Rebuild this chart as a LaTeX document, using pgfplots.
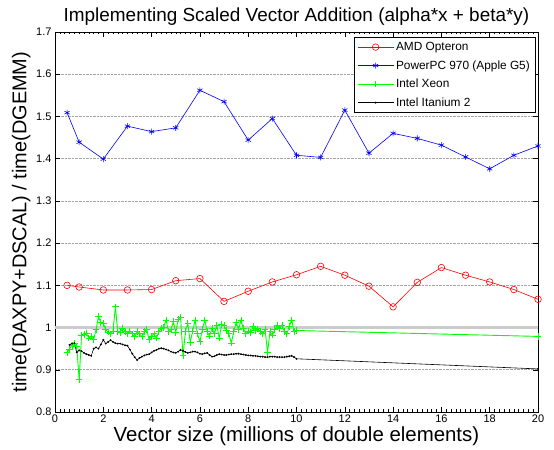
\documentclass[border=0pt]{standalone}
\usepackage{pgfplots}
\pgfplotsset{compat=1.18}
\usepackage{pgfplotstable}
\usepackage{fontspec}
\setmainfont{Liberation Sans}
\definecolor{mgreen}{rgb}{0,1,0}
\pgfplotstableread{
x y
0.5 1.100
1 1.096
2 1.089
3 1.089
4 1.090
5 1.111
6 1.116
7 1.062
8 1.086
9 1.108
10 1.125
11 1.145
12 1.124
13 1.098
14 1.049
15 1.107
16 1.142
17 1.124
18 1.108
19 1.090
20 1.067
}\amd
\pgfplotstableread{
x y
0.5 1.509
1 1.439
2 1.399
3 1.477
4 1.464
5 1.473
6 1.562
7 1.535
8 1.444
9 1.495
10 1.408
11 1.403
12 1.515
13 1.413
14 1.460
15 1.448
16 1.432
17 1.404
18 1.376
19 1.408
20 1.430
}\ppc
\pgfplotstableread{
x y
0.5 0.940
0.6 0.949
0.7 0.958
0.8 0.962
0.9 0.955
1.0 0.877
1.1 0.981
1.2 0.984
1.3 0.987
1.4 0.975
1.5 0.979
1.6 0.972
1.7 0.995
1.8 1.026
1.9 1.012
2.0 1.010
2.1 0.995
2.2 0.989
2.3 0.985
2.4 0.992
2.5 1.049
2.6 0.990
2.7 0.988
2.8 0.999
2.9 0.990
3.0 0.985
3.1 0.992
3.2 0.985
3.3 0.978
3.4 0.990
3.5 0.985
3.6 0.978
3.7 0.990
3.8 0.995
3.9 0.971
4.0 0.980
4.1 0.985
4.2 0.975
4.3 0.990
4.4 0.998
4.5 1.000
4.6 1.018
4.7 0.990
4.8 0.995
4.9 1.014
5.0 0.988
5.1 1.020
5.2 1.025
5.3 0.933
5.4 0.990
5.5 1.010
5.6 0.965
5.7 0.992
5.8 1.017
5.9 0.985
6.0 0.967
6.1 0.995
6.2 1.018
6.3 0.990
6.4 0.980
6.5 0.998
6.6 0.985
6.7 1.005
6.8 0.975
6.9 1.007
7.0 1.005
7.1 0.993
7.2 0.985
7.3 0.963
7.4 0.990
7.5 1.012
7.6 0.995
7.7 1.017
7.8 0.998
7.9 0.985
8.0 0.992
8.1 0.988
8.2 1.002
8.3 0.993
8.4 0.997
8.5 0.990
8.6 0.985
8.7 0.995
8.8 0.941
8.9 0.990
9.0 0.982
9.1 0.995
9.2 1.005
9.3 0.998
9.4 1.006
9.5 0.990
9.6 0.985
9.7 1.003
9.8 1.018
9.9 0.990
10.0 0.993
20 0.979
}\xeon
\pgfplotstableread{
x y
0.6 0.959
0.7 0.962
0.8 0.963
0.9 0.941
1.0 0.946
1.1 0.944
1.2 0.940
1.3 0.937
1.4 0.935
1.5 0.933
1.6 0.950
1.7 0.953
1.8 0.950
1.9 0.960
2.0 0.971
2.1 0.962
2.2 0.966
2.3 0.970
2.4 0.966
2.5 0.963
2.6 0.962
2.7 0.962
2.8 0.960
2.9 0.958
3.0 0.957
3.1 0.948
3.2 0.938
3.3 0.930
3.4 0.923
3.5 0.928
3.6 0.931
3.7 0.934
3.8 0.936
3.9 0.937
4.0 0.941
4.1 0.945
4.2 0.947
4.3 0.950
4.4 0.951
4.5 0.950
4.6 0.948
4.7 0.946
4.8 0.943
4.9 0.941
5.0 0.940
5.1 0.943
5.2 0.947
5.3 0.945
5.4 0.942
5.5 0.940
5.6 0.941
5.7 0.943
5.8 0.943
5.9 0.941
6.0 0.938
6.1 0.937
6.2 0.939
6.3 0.940
6.4 0.935
6.5 0.931
6.6 0.932
6.7 0.935
6.8 0.937
6.9 0.936
7.0 0.935
7.1 0.935
7.2 0.936
7.3 0.937
7.4 0.937
7.5 0.938
7.6 0.938
7.7 0.937
7.8 0.936
7.9 0.935
8.0 0.934
8.1 0.934
8.2 0.933
8.3 0.933
8.4 0.932
8.5 0.931
8.6 0.931
8.7 0.930
8.8 0.930
8.9 0.931
9.0 0.931
9.1 0.931
9.2 0.930
9.3 0.930
9.4 0.930
9.5 0.930
9.6 0.931
9.7 0.932
9.8 0.933
9.9 0.930
10.0 0.926
20 0.902
}\itanium
\begin{document}
\begin{tikzpicture}
\begin{axis}[
  scale only axis, width=483bp, height=380bp,
  xmin=0, xmax=20, ymin=0.8, ymax=1.7,
  xtick={0,2,...,20},
  ytick={0.8,0.9,1.0,1.1,1.2,1.3,1.4,1.5,1.6,1.7},
  yticklabels={0.8,0.9,1,1.1,1.2,1.3,1.4,1.5,1.6,1.7},
  minor x tick num=9,
  tick align=inside,
  major tick length=5bp, minor tick length=2.5bp,
  ymajorgrids,
  major grid style={densely dotted, gray!70, line width=0.7pt},
  axis line style={line width=0.6pt},
  tick style={line width=0.5pt, black},
  ticklabel style={font=\fontsize{11}{12}\selectfont},
  xticklabel style={yshift=1bp},
  /pgf/number format/assume math mode=true,
  title={Implementing Scaled Vector Addition (alpha*x + beta*y)},
  title style={font=\fontsize{19}{22}\selectfont, yshift=-3bp},
  xlabel={Vector size (millions of double elements)},
  xlabel style={font=\fontsize{20.5}{22}\selectfont, yshift=2bp},
  ylabel={time(DAXPY+DSCAL) / time(DGEMM)},
  ylabel style={font=\fontsize{20}{22}\selectfont, yshift=-1bp},
  legend style={at={(rel axis cs:0.994,0.987)}, anchor=north east,
    font=\fontsize{11.9}{14}\selectfont, draw=black, line width=0.6pt,
    cells={anchor=west}, row sep=4.5bp, inner xsep=3bp, inner ysep=3bp},
  legend image code/.code={
    \draw[mark repeat=2,mark phase=2] plot coordinates {(0bp,0bp) (18bp,0bp) (36bp,0bp)};},
]
\addplot[forget plot, gray!40, line width=2.5pt] coordinates {(0,1) (20,1)};
\addplot[red, line width=0.6pt, mark=o, mark size=3.3bp, mark options={line width=0.6pt}] table {\amd};
\addlegendentry{AMD Opteron}
\addplot[blue, line width=0.6pt, mark=asterisk, mark size=3bp, mark options={line width=0.6pt}] table {\ppc};
\addlegendentry{PowerPC 970 (Apple G5)}
\addplot[color=mgreen, line width=0.9pt, mark=+, mark size=3.3bp, mark options={line width=0.8pt, draw=mgreen}] table {\xeon};
\addlegendentry{Intel Xeon}
\addplot[black, line width=0.6pt, mark=*, mark size=0.6bp] table {\itanium};
\addlegendentry{Intel Itanium 2}
\end{axis}
\pgfresetboundingbox
\path[use as bounding box] ([xshift=-55bp,yshift=-38bp]current axis.south west) rectangle ([xshift=16bp,yshift=32bp]current axis.north east);
\end{tikzpicture}
\end{document}
